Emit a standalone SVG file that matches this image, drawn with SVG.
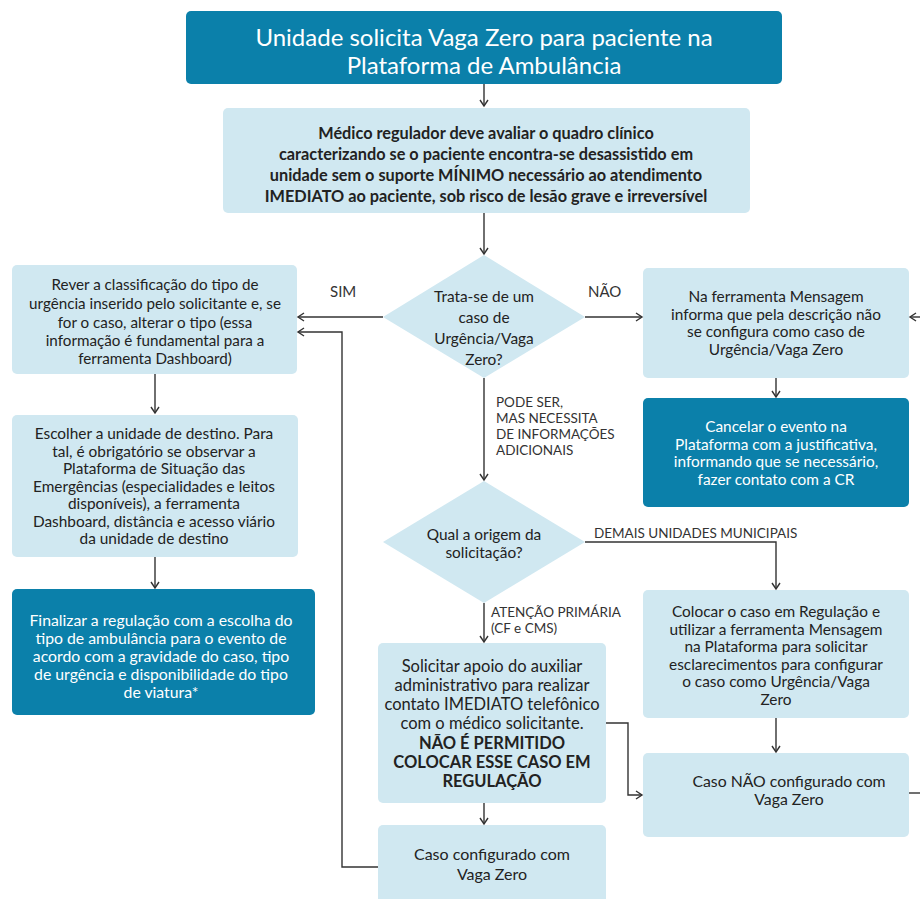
<svg xmlns="http://www.w3.org/2000/svg" width="920" height="899" viewBox="0 0 920 899">
<defs>
<marker id="arr" viewBox="0 0 10 10" refX="8" refY="5" markerWidth="10" markerHeight="10" markerUnits="userSpaceOnUse" orient="auto">
<path d="M2,1 L8,5 L2,9" fill="none" stroke="#333" stroke-width="1.4"/>
</marker>
<style>
.dark{fill:#0b80aa}
.light{fill:#d0e8f1}
.t{font-family:Lato,"Open Sans","Noto Sans",sans-serif;font-size:15.4px;fill:#222;text-anchor:middle}
.w{fill:#fff}
.b{font-weight:bold}
.lbl{font-family:Lato,"Open Sans","Noto Sans",sans-serif;font-size:13.5px;fill:#333}
.c{fill:none;stroke:#333;stroke-width:1.4}
</style>
</defs>
<rect width="920" height="899" fill="#fff"/>

<g id="n1">
<rect class="dark" x="186" y="11" width="596" height="73" rx="5"/>
<text class="t w" style="font-size:24px" x="484" y="46">Unidade solicita Vaga Zero para paciente na</text>
<text class="t w" style="font-size:24px" x="484" y="74">Plataforma de Ambulância</text>
</g>

<g id="n2">
<rect class="light" x="223" y="108" width="527" height="105" rx="5"/>
<text class="t b" style="font-size:16.3px" x="486" y="139">Médico regulador deve avaliar o quadro clínico</text>
<text class="t b" style="font-size:16.3px" x="486" y="160">caracterizando se o paciente encontra-se desassistido em</text>
<text class="t b" style="font-size:16.3px" x="486" y="181">unidade sem o suporte MÍNIMO necessário ao atendimento</text>
<text class="t b" style="font-size:16.3px" x="486" y="202">IMEDIATO ao paciente, sob risco de lesão grave e irreversível</text>
</g>

<g id="d1">
<polygon class="light" points="484,255 585,317 484,378 383,317"/>
<text class="t" x="484" y="302">Trata-se de um</text>
<text class="t" x="484" y="323">caso de</text>
<text class="t" x="484" y="344">Urgência/Vaga</text>
<text class="t" x="484" y="365">Zero?</text>
</g>

<g id="l1">
<rect class="light" x="12" y="265" width="285" height="109" rx="5"/>
<text class="t" style="font-size:15.2px" x="155" y="290">Rever a classificação do tipo de</text>
<text class="t" style="font-size:15.2px" x="155" y="309">urgência inserido pelo solicitante e, se</text>
<text class="t" style="font-size:15.2px" x="155" y="328">for o caso, alterar o tipo (essa</text>
<text class="t" style="font-size:15.2px" x="155" y="346">informação é fundamental para a</text>
<text class="t" style="font-size:15.2px" x="155" y="364">ferramenta Dashboard)</text>
</g>

<g id="l2">
<rect class="light" x="12" y="415" width="286" height="142" rx="5"/>
<text class="t" x="154" y="439">Escolher a unidade de destino. Para</text>
<text class="t" x="154" y="456.5">tal, é obrigatório se observar a</text>
<text class="t" x="154" y="474">Plataforma de Situação das</text>
<text class="t" x="154" y="491.5">Emergências (especialidades e leitos</text>
<text class="t" x="154" y="509">disponíveis), a ferramenta</text>
<text class="t" x="154" y="526.5">Dashboard, distância e acesso viário</text>
<text class="t" x="154" y="544">da unidade de destino</text>
</g>

<g id="l3">
<rect class="dark" x="12" y="589" width="303" height="126" rx="5"/>
<text class="t w" style="font-size:15.8px" x="161" y="626">Finalizar a regulação com a escolha do</text>
<text class="t w" style="font-size:15.8px" x="161" y="644">tipo de ambulância para o evento de</text>
<text class="t w" style="font-size:15.8px" x="161" y="662">acordo com a gravidade do caso, tipo</text>
<text class="t w" style="font-size:15.8px" x="161" y="680">de urgência e disponibilidade do tipo</text>
<text class="t w" style="font-size:15.8px" x="161" y="698">de viatura*</text>
</g>

<g id="r1">
<rect class="light" x="643" y="268" width="266" height="110" rx="5"/>
<text class="t" x="776" y="302">Na ferramenta Mensagem</text>
<text class="t" x="776" y="319.5">informa que pela descrição não</text>
<text class="t" x="776" y="337">se configura como caso de</text>
<text class="t" x="776" y="354.5">Urgência/Vaga Zero</text>
</g>

<g id="r2">
<rect class="dark" x="643" y="398" width="266" height="109" rx="5"/>
<text class="t w" x="776" y="432">Cancelar o evento na</text>
<text class="t w" x="776" y="449.5">Plataforma com a justificativa,</text>
<text class="t w" x="776" y="467">informando que se necessário,</text>
<text class="t w" x="776" y="484.5">fazer contato com a CR</text>
</g>

<g id="d2">
<polygon class="light" points="484,481 585,542 484,603 383,542"/>
<text class="t" x="484" y="540">Qual a origem da</text>
<text class="t" x="484" y="558">solicitação?</text>
</g>

<g id="r3">
<rect class="light" x="643" y="590" width="266" height="128" rx="5"/>
<text class="t" x="776" y="617">Colocar o caso em Regulação e</text>
<text class="t" x="776" y="634.6">utilizar a ferramenta Mensagem</text>
<text class="t" x="776" y="652.2">na Plataforma para solicitar</text>
<text class="t" x="776" y="669.8">esclarecimentos para configurar</text>
<text class="t" x="776" y="687.4">o caso como Urgência/Vaga</text>
<text class="t" x="776" y="705">Zero</text>
</g>

<g id="r4">
<rect class="light" x="643" y="753" width="266" height="84" rx="5"/>
<text class="t" style="font-size:15.8px" x="789" y="787">Caso NÃO configurado com</text>
<text class="t" style="font-size:15.8px" x="789" y="805">Vaga Zero</text>
</g>

<g id="c1">
<rect class="light" x="378" y="643" width="228" height="160" rx="5"/>
<text class="t" style="font-size:16.5px" x="492" y="672">Solicitar apoio do auxiliar</text>
<text class="t" style="font-size:16.5px" x="492" y="691">administrativo para realizar</text>
<text class="t" style="font-size:16.5px" x="492" y="710">contato IMEDIATO telefônico</text>
<text class="t" style="font-size:16.5px" x="492" y="729">com o médico solicitante.</text>
<text class="t b" style="font-size:16.5px" x="492" y="749">NÃO É PERMITIDO</text>
<text class="t b" style="font-size:16.5px" x="492" y="768">COLOCAR ESSE CASO EM</text>
<text class="t b" style="font-size:16.5px" x="492" y="787">REGULAÇÃO</text>
</g>

<g id="c2">
<rect class="light" x="378" y="825" width="228" height="80" rx="5"/>
<text class="t" style="font-size:16px" x="492" y="860">Caso configurado com</text>
<text class="t" style="font-size:16px" x="492" y="880">Vaga Zero</text>
</g>

<g id="connectors">
<path class="c" d="M484,84 V106" marker-end="url(#arr)"/>
<path class="c" d="M484,213 V254" marker-end="url(#arr)"/>
<path class="c" d="M383,317 H298" marker-end="url(#arr)"/>
<path class="c" d="M585,317 H642" marker-end="url(#arr)"/>
<path class="c" d="M484,378 V480" marker-end="url(#arr)"/>
<path class="c" d="M155,374 V413" marker-end="url(#arr)"/>
<path class="c" d="M155,557 V588" marker-end="url(#arr)"/>
<path class="c" d="M776,378 V397" marker-end="url(#arr)"/>
<path class="c" d="M585,542 H776 V589" marker-end="url(#arr)"/>
<path class="c" d="M484,603 V642" marker-end="url(#arr)"/>
<path class="c" d="M484,803 V824" marker-end="url(#arr)"/>
<path class="c" d="M606,723 H628 V795 H642" marker-end="url(#arr)"/>
<path class="c" d="M776,718 V752" marker-end="url(#arr)"/>
<path class="c" d="M378,867 H342 V332 H298" marker-end="url(#arr)"/>
<path class="c" d="M909,793 H920"/>
<path class="c" d="M921,317 H910" marker-end="url(#arr)"/>
</g>

<g id="labels">
<text class="lbl" style="font-size:15px" x="330" y="297">SIM</text>
<text class="lbl" style="font-size:15px" x="588" y="297">NÃO</text>
<text class="lbl" x="496" y="407">PODE SER,</text>
<text class="lbl" x="496" y="423">MAS NECESSITA</text>
<text class="lbl" x="496" y="439">DE INFORMAÇÕES</text>
<text class="lbl" x="496" y="455">ADICIONAIS</text>
<text class="lbl" x="594" y="538">DEMAIS UNIDADES MUNICIPAIS</text>
<text class="lbl" x="491" y="617">ATENÇÃO PRIMÁRIA</text>
<text class="lbl" x="491" y="633">(CF e CMS)</text>
</g>
</svg>
